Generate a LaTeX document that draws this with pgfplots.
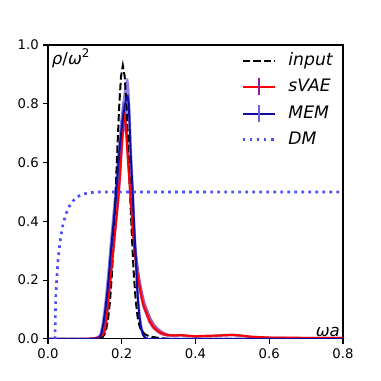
\documentclass[border=0pt]{standalone}
\usepackage{fontspec}
\setmainfont{DejaVu Sans}
\usepackage{pgfplots}
\pgfplotsset{compat=1.18}
\usepgfplotslibrary{fillbetween}

\definecolor{dmblue}{rgb}{0.30,0.30,1.00}
\definecolor{memline}{rgb}{0.05,0.05,0.62}
\definecolor{memband}{rgb}{0.42,0.36,0.88}
\definecolor{svaeband}{rgb}{0.55,0.12,0.58}

\begin{document}
\begin{tikzpicture}
\begin{axis}[
  scale only axis,
  width=223bp, height=222.2bp,
  xmin=0, xmax=0.8, ymin=0, ymax=1.0,
  xtick={0,0.2,0.4,0.6,0.8},
  ytick={0,0.2,0.4,0.6,0.8,1.0},
  tick align=outside,
  tick pos=left,
  major tick length=3.5bp,
  every tick/.style={black, line width=0.8bp},
  axis line style={line width=0.8bp},
  tick label style={font=\fontsize{10bp}{12bp}\selectfont},
  /pgf/number format/assume math mode=true,
  xticklabel style={/pgf/number format/.cd, fixed, fixed zerofill, precision=1},
  yticklabel style={/pgf/number format/.cd, fixed, fixed zerofill, precision=1},
  legend cell align=left,
  legend image code/.code={\draw[#1] (0bp,0bp) -- (24.7bp,0bp);},
  legend style={draw=none, fill=none, at={(0.655,0.975)}, anchor=north west,
    font=\fontsize{13bp}{15bp}\selectfont\itshape, column sep=8.8bp, row sep=6.3bp,
    inner sep=0pt, nodes={inner sep=0pt, text height=9.5bp, text depth=3bp}},
]

% sVAE uncertainty band
\addplot[draw=none, name path=sh, forget plot] coordinates {
(0.0,0.004) (0.10,0.004) (0.126,0.006) (0.136,0.011) (0.146,0.022) (0.151,0.045)
(0.156,0.095) (0.161,0.16) (0.166,0.225) (0.171,0.285) (0.176,0.35) (0.181,0.415)
(0.186,0.48) (0.191,0.56) (0.195,0.665) (0.199,0.76) (0.203,0.807) (0.208,0.795)
(0.213,0.75) (0.217,0.70) (0.222,0.61) (0.226,0.54) (0.23,0.47) (0.235,0.38)
(0.24,0.31) (0.245,0.255) (0.25,0.21) (0.255,0.175) (0.26,0.145) (0.265,0.12)
(0.273,0.095) (0.28,0.072) (0.29,0.05) (0.30,0.037) (0.31,0.027) (0.32,0.021)
(0.33,0.017) (0.345,0.016) (0.36,0.017) (0.38,0.015) (0.40,0.013) (0.42,0.014)
(0.45,0.015) (0.48,0.017) (0.50,0.018) (0.52,0.016) (0.55,0.011) (0.6,0.008)
(0.7,0.007) (0.8,0.007)};
\addplot[draw=none, name path=sl, forget plot] coordinates {
(0,0) (0.133,0) (0.143,0.001) (0.153,0.01) (0.158,0.03) (0.163,0.08) (0.168,0.145)
(0.173,0.21) (0.178,0.27) (0.183,0.335) (0.188,0.40) (0.193,0.465) (0.198,0.545)
(0.203,0.65) (0.207,0.71) (0.21,0.70) (0.214,0.62) (0.218,0.545) (0.222,0.475)
(0.227,0.365) (0.232,0.295) (0.237,0.24) (0.242,0.195) (0.247,0.16) (0.252,0.13)
(0.257,0.105) (0.265,0.08) (0.272,0.057) (0.282,0.037) (0.292,0.025) (0.302,0.016)
(0.312,0.011) (0.322,0.008) (0.34,0.007) (0.36,0.008) (0.38,0.006) (0.40,0.004)
(0.42,0.005) (0.45,0.006) (0.48,0.008) (0.50,0.009) (0.52,0.007) (0.55,0.003)
(0.6,0.001) (0.8,0.001)};
\addplot[svaeband, fill opacity=0.75, draw=none, forget plot] fill between[of=sh and sl];

% MEM uncertainty band
\addplot[draw=none, name path=mh, forget plot] coordinates {
(0,0.002) (0.116,0.002) (0.131,0.003) (0.136,0.007) (0.141,0.025) (0.146,0.058)
(0.151,0.105) (0.156,0.165) (0.161,0.23) (0.166,0.305) (0.171,0.375) (0.176,0.445)
(0.181,0.515) (0.186,0.60) (0.191,0.68) (0.196,0.745) (0.201,0.80) (0.206,0.845)
(0.21,0.875) (0.214,0.888) (0.218,0.885) (0.221,0.85) (0.2245,0.76) (0.2275,0.65)
(0.2326,0.52) (0.236,0.42) (0.239,0.34) (0.2416,0.28) (0.2435,0.215) (0.247,0.145)
(0.251,0.088) (0.255,0.05) (0.26,0.024) (0.265,0.01) (0.271,0.003) (0.28,0.002)
(0.8,0.002)};
\addplot[draw=none, name path=ml, forget plot] coordinates {
(0,0) (0.14,0) (0.145,0.002) (0.15,0.015) (0.155,0.045) (0.16,0.09) (0.165,0.145)
(0.17,0.21) (0.175,0.28) (0.18,0.35) (0.185,0.415) (0.19,0.485) (0.195,0.565)
(0.2,0.64) (0.205,0.70) (0.21,0.745) (0.215,0.77) (0.218,0.75) (0.2205,0.69)
(0.2235,0.60) (0.2276,0.49) (0.231,0.39) (0.234,0.31) (0.2366,0.255) (0.2385,0.19)
(0.242,0.12) (0.246,0.065) (0.25,0.032) (0.255,0.012) (0.26,0.003) (0.27,0) (0.8,0)};
\addplot[memband, fill opacity=0.75, draw=none, forget plot] fill between[of=mh and ml];

% input
\addplot[black, line width=1.5bp, dash pattern=on 5.5bp off 2.4bp] coordinates {
(0,0) (0.10,0) (0.12,0.001) (0.133,0.002) (0.143,0.004) (0.148,0.0067) (0.153,0.0157)
(0.158,0.034) (0.163,0.068) (0.168,0.126) (0.173,0.214) (0.178,0.335) (0.183,0.484)
(0.188,0.644) (0.193,0.790) (0.198,0.893) (0.203,0.93) (0.208,0.893) (0.213,0.790)
(0.218,0.644) (0.223,0.484) (0.228,0.335) (0.233,0.214) (0.238,0.13) (0.243,0.075)
(0.248,0.045) (0.253,0.028) (0.263,0.016) (0.273,0.010) (0.283,0.007) (0.303,0.003)
(0.323,0.001) (0.35,0) (0.8,0)};
\addlegendentry{input}

% sVAE
\addplot[red, line width=1.5bp,
  legend image code/.code={
    \draw[red, line width=1.5bp] (0bp,0bp) -- (24.7bp,0bp);
    \draw[svaeband, line width=1.5bp] (12.35bp,-6.3bp) -- (12.35bp,6.3bp);}
] coordinates {
(0.0,0.0) (0.10,0.0) (0.13,0.002) (0.14,0.006) (0.15,0.015) (0.155,0.035)
(0.16,0.085) (0.165,0.15) (0.17,0.215) (0.175,0.275) (0.18,0.34) (0.185,0.405)
(0.19,0.47) (0.195,0.55) (0.2,0.655) (0.204,0.74) (0.207,0.77) (0.21,0.74)
(0.213,0.68) (0.217,0.60) (0.221,0.53) (0.225,0.46) (0.23,0.37) (0.235,0.30)
(0.24,0.245) (0.245,0.20) (0.25,0.165) (0.255,0.135) (0.26,0.11) (0.268,0.085)
(0.275,0.062) (0.285,0.042) (0.295,0.03) (0.305,0.021) (0.315,0.016) (0.325,0.013)
(0.34,0.012) (0.36,0.013) (0.38,0.011) (0.40,0.009) (0.42,0.010) (0.45,0.011)
(0.48,0.013) (0.50,0.014) (0.52,0.012) (0.55,0.008) (0.6,0.005) (0.7,0.004)
(0.8,0.004)};
\addlegendentry{sVAE}

% MEM
\addplot[memline, line width=1.5bp,
  legend image code/.code={
    \draw[memline, line width=1.5bp] (0bp,0bp) -- (24.7bp,0bp);
    \draw[memband, line width=1.5bp] (12.35bp,-6.3bp) -- (12.35bp,6.3bp);}
] coordinates {
(0,0) (0.12,0) (0.135,0.001) (0.14,0.004) (0.145,0.02) (0.15,0.05) (0.155,0.095)
(0.16,0.15) (0.165,0.215) (0.17,0.29) (0.175,0.36) (0.18,0.425) (0.185,0.495)
(0.19,0.58) (0.195,0.66) (0.2,0.72) (0.205,0.77) (0.21,0.805) (0.213,0.82)
(0.216,0.825) (0.219,0.80) (0.2215,0.72) (0.2245,0.62) (0.2296,0.50) (0.233,0.40)
(0.236,0.32) (0.2386,0.265) (0.2405,0.20) (0.244,0.13) (0.248,0.075) (0.252,0.04)
(0.257,0.017) (0.262,0.006) (0.268,0.001) (0.28,0) (0.8,0)};
\addlegendentry{MEM}

% DM
\addplot[dmblue, line width=2bp, dash pattern=on 2bp off 3.3bp] coordinates {
(0.019,0) (0.0195,0.05) (0.021,0.14) (0.0235,0.20) (0.027,0.265) (0.0325,0.33)
(0.039,0.38) (0.047,0.42) (0.057,0.45) (0.068,0.47) (0.08,0.484) (0.095,0.493)
(0.115,0.498) (0.14,0.50) (0.8,0.50)};
\addlegendentry{DM}

\node[anchor=base west, inner sep=0pt, font=\fontsize{12.5bp}{14bp}\selectfont]
  at (rel axis cs:0.0125,0.935) {\textit{ρ}/\textit{ω}\raisebox{0.75ex}{\fontsize{9bp}{10bp}\selectfont 2}};
\node[anchor=base east, inner sep=0pt, font=\fontsize{12.5bp}{14bp}\selectfont\itshape]
  at (rel axis cs:0.99,0.01) {ωa};
\end{axis}
\path ([xshift=-36.28bp,yshift=-31.75bp]current axis.south west)
  rectangle ([xshift=28.72bp,yshift=34.02bp]current axis.north east);
\end{tikzpicture}
\end{document}
